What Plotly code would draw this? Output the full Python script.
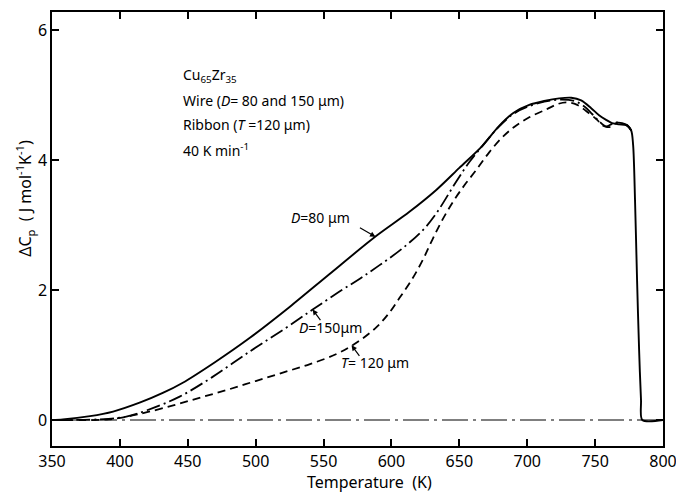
import plotly.graph_objects as go

# Excess heat capacity of Cu65Zr35 glass, heated at 40 K/min
# Wire, D = 80 um (solid line)
wire80_T = [350, 358, 378, 395, 415, 432, 446, 470, 496, 525,
            554, 588, 613, 633, 650, 667, 679, 690, 701.5, 712.5,
            723.5, 732.4, 739.7, 747.1, 752.9, 758.1, 762.5, 767.6, 772.8, 776.5,
            778.0, 779.4, 780.9, 782.4, 783.8, 784.8, 800]
wire80_Cp = [0.0, 0.01, 0.06, 0.13, 0.27, 0.42, 0.57, 0.89, 1.27, 1.74,
             2.24, 2.82, 3.20, 3.54, 3.88, 4.22, 4.52, 4.73, 4.85, 4.91,
             4.95, 4.96, 4.92, 4.80, 4.69, 4.62, 4.57, 4.55, 4.54, 4.46,
             4.23, 3.38, 2.15, 1.08, 0.31, 0.0, 0.0]

# Wire, D = 150 um (dash-dot line)
wire150_T = [350, 385, 404, 420, 444, 468, 496, 521, 542, 562,
             577, 591, 608, 623, 633, 648, 657.4, 667, 679.4, 690.4,
             701.5, 712.5, 723.5, 734.6, 741.9, 747.8, 752.9, 758.1, 761.8, 765.4,
             769.9, 773.5, 776.5]
wire150_Cp = [0.0, 0.01, 0.05, 0.15, 0.36, 0.66, 1.06, 1.40, 1.70, 1.98,
              2.18, 2.38, 2.64, 2.92, 3.18, 3.68, 3.97, 4.22, 4.52, 4.72,
              4.83, 4.90, 4.93, 4.91, 4.83, 4.71, 4.60, 4.52, 4.55, 4.58,
              4.57, 4.54, 4.46]

# Ribbon, T = 120 um (dashed line)
ribbon_T = [350, 392, 407, 420, 440, 460, 480, 500, 520, 540,
            560, 575, 589, 598, 606, 615, 623, 630, 637.5, 646,
            654, 662.5, 672, 681.6, 690.4, 701.5, 714, 722, 728.7, 736.8,
            745.6, 751.5, 755.1, 758.8, 762.5, 765.4, 769.9, 773.5, 776.5]
ribbon_Cp = [0.0, 0.01, 0.06, 0.12, 0.23, 0.35, 0.47, 0.60, 0.73, 0.86,
             1.02, 1.20, 1.43, 1.64, 1.88, 2.16, 2.46, 2.77, 3.08, 3.38,
             3.62, 3.85, 4.12, 4.35, 4.51, 4.66, 4.78, 4.86, 4.89, 4.85,
             4.72, 4.62, 4.54, 4.51, 4.52, 4.57, 4.57, 4.54, 4.46]

baseline_T = [350, 800]
baseline_Cp = [0.0, 0.0]

x_ticks = [350, 400, 450, 500, 550, 600, 650, 700, 750, 800]
y_ticks = [0, 2, 4, 6]

FONT = "Noto Sans"
INK = "black"

fig = go.Figure()
fig.add_trace(go.Scatter(x=baseline_T, y=baseline_Cp, mode="lines",
                         line=dict(color=INK, width=1.2, dash="26px,5px,3px,5px"),
                         hoverinfo="skip"))
fig.add_trace(go.Scatter(x=ribbon_T, y=ribbon_Cp, mode="lines",
                         line=dict(color=INK, width=1.8, dash="8px,5px",
                                   shape="spline", smoothing=1.0)))
fig.add_trace(go.Scatter(x=wire150_T, y=wire150_Cp, mode="lines",
                         line=dict(color=INK, width=1.8, dash="14px,4px,2px,4px",
                                   shape="spline", smoothing=1.0)))
fig.add_trace(go.Scatter(x=wire80_T, y=wire80_Cp, mode="lines",
                         line=dict(color=INK, width=1.9,
                                   shape="spline", smoothing=0.8)))

annotations = []

# Sample description block
info_lines = [
    ("Cu<sub>65</sub>Zr<sub>35</sub>", 5.31),
    ("Wire (<i>D</i>= 80 and 150 μm)", 4.92),
    ("Ribbon (<i>T</i> =120 μm)", 4.55),
    ("40 K min<sup>-1</sup>", 4.15),
]
for txt, yv in info_lines:
    annotations.append(dict(x=445, y=yv, xref="x", yref="y", text=txt,
                            showarrow=False, xanchor="left", yanchor="middle",
                            font=dict(family=FONT, size=14, color=INK)))

# Curve labels with pointer arrows
curve_labels = [
    ("<i>D</i>=80 μm", 547.8, 3.12),
    ("<i>D</i>=150μm", 555.0, 1.43),
    ("<i>T</i>= 120 μm", 588.0, 0.88),
]
for txt, xv, yv in curve_labels:
    annotations.append(dict(x=xv, y=yv, xref="x", yref="y", text=txt,
                            showarrow=False, xanchor="center", yanchor="middle",
                            font=dict(family=FONT, size=14, color=INK)))

arrows = [
    (588.2, 2.82, -17, -10),
    (541.9, 1.70, 9, 12),
    (570.6, 1.15, 9, 12),
]
for xv, yv, axv, ayv in arrows:
    annotations.append(dict(x=xv, y=yv, xref="x", yref="y", text="",
                            showarrow=True, ax=axv, ay=ayv, arrowhead=2,
                            arrowsize=0.9, arrowwidth=1.2, arrowcolor=INK,
                            standoff=0, startstandoff=0))

# Axis titles
annotations.append(dict(x=0.52, y=-0.083, xref="paper", yref="paper",
                        text="Temperature  (K)", showarrow=False,
                        xanchor="center", yanchor="middle",
                        font=dict(family=FONT, size=16, color=INK)))
annotations.append(dict(x=-0.044, y=0.57, xref="paper", yref="paper",
                        text="ΔC<sub>p</sub>  ( J mol<sup>-1</sup>K<sup>-1</sup>)",
                        showarrow=False, textangle=-90,
                        xanchor="center", yanchor="middle",
                        font=dict(family=FONT, size=16, color=INK)))

axis_common = dict(showline=True, linecolor=INK, linewidth=1.5, mirror="ticks",
                   ticks="inside", ticklen=7, tickwidth=1.5, tickcolor=INK,
                   showgrid=False, zeroline=False, automargin=False,
                   ticklabeloverflow="allow",
                   tickfont=dict(family=FONT, size=16, color=INK))

fig.update_layout(
    width=676, height=493,
    margin=dict(l=52, r=13, t=12, b=47),
    paper_bgcolor="white", plot_bgcolor="white",
    showlegend=False,
    xaxis=dict(range=[350, 800], tickvals=x_ticks, **axis_common),
    yaxis=dict(range=[-0.4, 6.28], tickvals=y_ticks, **axis_common),
    annotations=annotations,
)

fig.write_html("out.html")
